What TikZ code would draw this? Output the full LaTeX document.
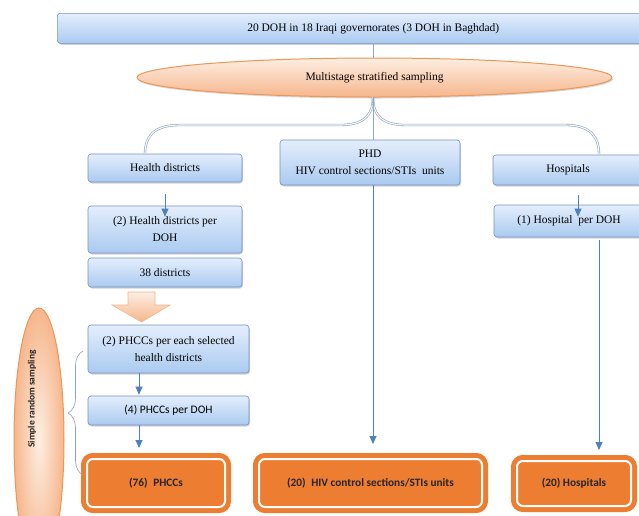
\documentclass[tikz,border=0pt]{standalone}
\usepackage{fontspec}
\setmainfont{Liberation Serif}
\newfontfamily\calfont{Carlito}
\usetikzlibrary{shadows,arrows.meta,decorations.pathreplacing,calc,shapes.geometric}
\definecolor{boxtop}{RGB}{228,238,252}
\definecolor{boxbot}{RGB}{170,202,240}
\definecolor{boxline}{RGB}{115,145,195}
\definecolor{orng}{RGB}{237,125,49}
\definecolor{peachtop}{RGB}{253,238,226}
\definecolor{peachbot}{RGB}{246,182,140}
\definecolor{peachline}{RGB}{236,150,90}
\definecolor{arrblue}{RGB}{79,129,189}
\definecolor{curvecol}{RGB}{140,162,195}
\begin{document}
\begin{tikzpicture}[x=1pt,y=-1pt,
  bluebox/.style={rectangle, rounded corners=3pt, draw=boxline, line width=0.6pt,
    top color=boxtop, bottom color=boxbot,
    drop shadow={shadow xshift=1pt, shadow yshift=-1.5pt, opacity=0.35},
    align=center, inner sep=0pt, font=\fontsize{11.5}{17}\selectfont},
  obox/.style={rectangle, rounded corners=6pt, fill=orng, draw=white, line width=2pt,
    preaction={draw=orng, line width=12pt}, inner sep=0pt,
    font=\calfont\bfseries\fontsize{11.3}{13}\selectfont, text=black!85},
  peach/.style={ellipse, draw=peachline, line width=1pt, inner sep=0pt},
  arr/.style={draw=arrblue, line width=0.9pt, -{Triangle[width=7pt,length=8pt]}},
  plain/.style={draw=boxline!80, line width=0.7pt},
  curve/.style={draw=curvecol, double=white, double distance=1.1pt, line width=0.6pt}]
\useasboundingbox (0,0) rectangle (639,515);
\clip (0,0) rectangle (639,515);
\fill[white] (0,0) rectangle (639,515);

% top box and ellipse
\node[bluebox, minimum width=632pt, minimum height=30pt, anchor=north west] (top) at (57,13)
  {20 DOH in 18 Iraqi governorates (3 DOH in Baghdad)};
\node[peach, top color=peachtop, bottom color=peachbot, minimum width=475pt, minimum height=39pt,
  drop shadow={shadow xshift=1pt, shadow yshift=-1.5pt, opacity=0.3},
  font=\fontsize{11.5}{13}\selectfont] (ms) at (374.5,77.5) {Multistage stratified sampling};
\draw[plain] (top.south -| 373,0) -- (373,58);

% second row
\node[bluebox, minimum width=154pt, minimum height=28pt] (hd) at (165,168) {Health districts};
\node[bluebox, minimum width=180pt, minimum height=45pt] (phd) at (370,162.5)
  {PHD\\HIV control sections/STIs\enspace units};
\node[bluebox, minimum width=150pt, minimum height=30pt] (hosp) at (568,170) {Hospitals};

% curves from ellipse
\coordinate (cl1) at (340,125);
\coordinate (cl2) at (180,125);
\coordinate (cr1) at (406,125);
\coordinate (cr2) at (565,125);
\draw[curve] (373,97) .. controls (373,117) and (362,125) .. (cl1) -- (cl2)
  .. controls (152,125) and (145,138) .. ($(hd.north)+(-20,0)$);
\draw[curve] (373,97) .. controls (373,117) and (384,125) .. (cr1) -- (cr2)
  .. controls (592,125) and (599,138) .. ($(hosp.north)+(31,0)$);
\draw[plain] (373,97) -- (phd.north -| 373,0);

% left column
\node[bluebox, minimum width=154pt, minimum height=47pt] (hd2) at (165,229.5)
  {\raisebox{-3pt}{(2) Health districts per}\\\raisebox{-3pt}{DOH}};
\node[bluebox, minimum width=154pt, minimum height=29pt] (d38) at (165,272.5) {38 districts};
\node[bluebox, minimum width=161pt, minimum height=48pt] (p2) at (168.5,349)
  {(2) PHCCs per each selected\\health districts};
\node[bluebox, minimum width=161pt, minimum height=29pt, font=\calfont\fontsize{11.5}{14}\selectfont]
  (p4) at (168.5,410.5) {(4) PHCCs per DOH};
\node[obox, minimum width=138pt, minimum height=48pt] (p76) at (156,483) {(76)\enspace PHCCs};

\draw[arr] ($(hd.south)+(0,12)$) -- ($(hd2.north)+(0,11)$);

% big hollow arrow
\path[draw=peachline!70, line width=0.6pt, top color=peachtop, bottom color=peachbot]
  (128,292) -- (155,292) -- (155,305) -- (170,305) -- (141.5,322) -- (112,305) -- (128,305) -- cycle;

\coordinate (ax) at (139,0);
\draw[arr] (p2.south -| ax) -- ($(p4.north -| ax)+(0,-1)$);
\draw[arr] (p4.south -| ax) -- ($(p76.north -| ax)+(0,-10)$);

% middle column
\node[obox, minimum width=223pt, minimum height=48pt] (hiv) at (370.5,483)
  {(20)\enspace HIV control sections/STIs units};
\draw[arr] (phd.south -| 373,0) -- ($(hiv.north -| 373,0)+(0,-14)$);

% right column
\node[bluebox, minimum width=150pt, minimum height=32pt] (h1) at (569,221) {(1) Hospital\enspace per DOH};
\node[obox, minimum width=114pt, minimum height=45pt] (h20) at (574,483.5) {(20) Hospitals};
\coordinate (hx) at (578,0);
\coordinate (hy) at (599,0);
\draw[arr] ($(hosp.south -| hx)+(0,10)$) -- ($(h1.north -| hx)+(0,12)$);
\draw[arr] ($(h1.south -| hy)+(0,3)$) -- ($(h20.north -| hy)+(0,-10)$);

% simple random sampling
\node[peach, inner color=peachtop, outer color=peachbot, minimum width=50pt, minimum height=264pt] (srse) at (39,440) {};
\node[rotate=90, font=\calfont\bfseries\fontsize{9.5}{11}\selectfont, text=black!85] (srs) at (32,399) {Simple random sampling};
\coordinate (b1) at (83,475);
\coordinate (b2) at (83,351);
\draw[draw=curvecol, line width=0.6pt, decorate, decoration={brace, amplitude=15pt}] (b1) -- (b2);
\end{tikzpicture}
\end{document}
